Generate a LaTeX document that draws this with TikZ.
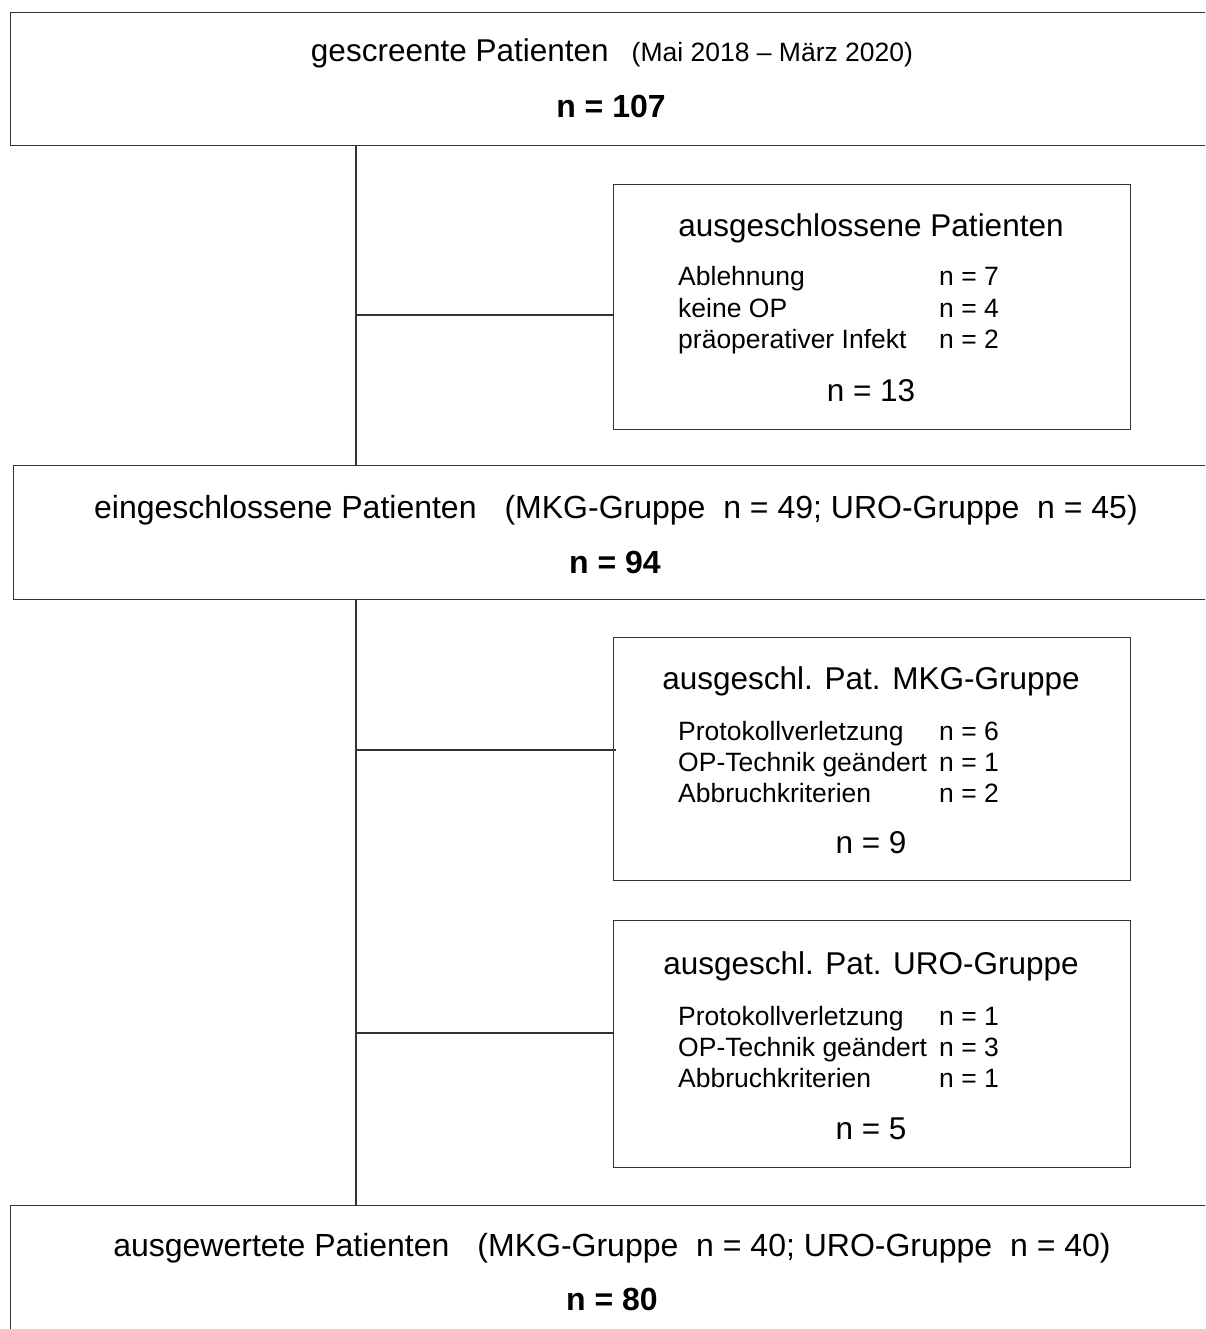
\documentclass[tikz,border=0pt]{standalone}
\usepackage{fontspec}
\setmainfont{Liberation Sans}
\newcommand\hdfont{\fontsize{31.5}{37}\selectfont}
\newcommand\widehd{\fontsize{32}{38}\selectfont}
\newcommand\subfont{\fontsize{26.5}{31}\selectfont}
\newcommand\listfont{\fontsize{26.5}{31}\selectfont}
\newcommand\totfont{\fontsize{31.5}{37}\selectfont}
\newcommand\boldtot{\fontsize{32}{38}\selectfont\bfseries}
\begin{document}
\begin{tikzpicture}[x=1pt,y=-1pt,
  frame/.style={draw=black!80, line width=1.3pt, rectangle, inner sep=0pt, anchor=north west},
  link/.style={draw=black!80, line width=1.3pt},
  hd/.style={inner sep=0pt, anchor=base, font=\hdfont},
  whd/.style={inner sep=0pt, anchor=base, font=\widehd},
  tot/.style={inner sep=0pt, anchor=base, font=\totfont},
  btot/.style={inner sep=0pt, anchor=base, font=\boldtot},
  item/.style={inner sep=0pt, anchor=base west, font=\listfont}]
\useasboundingbox (0,0) rectangle (1205,1329);
\clip (0,0) rectangle (1205,1329);

% main stages (full width, running off the right edge)
\node[frame, minimum width=1225pt, minimum height=133pt] (screen) at (10,12) {};
\node[frame, minimum width=1225pt, minimum height=134pt] (incl) at (13,465) {};
\node[frame, minimum width=1225pt, minimum height=160pt] (eval) at (10,1205) {};

% exclusion boxes
\node[frame, minimum width=517pt, minimum height=245pt] (excl) at (613,184) {};
\node[frame, minimum width=517pt, minimum height=243pt] (mkg) at (613,637) {};
\node[frame, minimum width=517pt, minimum height=247pt] (uro) at (613,920) {};

% texts of the main stages
\node[hd] (screenhd) at (612,62) {gescreente Patienten\hspace{23pt}{\subfont (Mai 2018 – März 2020)}};
\node[btot] (screenn) at (611,118) {n = 107};
\node[whd] (inclhd) at (616,518) {eingeschlossene Patienten\hspace{28pt}(MKG-Gruppe\ \ n = 49; URO-Gruppe\ \ n = 45)};
\node[btot] (incln) at (615,573) {n = 94};
\node[whd] (evalhd) at (612,1256) {ausgewertete Patienten\hspace{28pt}(MKG-Gruppe\ \ n = 40; URO-Gruppe\ \ n = 40)};
\node[btot] (evaln) at (612,1310) {n = 80};

% texts of the exclusion boxes
\node[hd] (exclhd) at (871,237) {ausgeschlossene Patienten};
\node[item] (e1) at (678,286) {Ablehnung};
\node[item] (e1n) at (939,286) {n = 7};
\node[item] (e2) at (678,317) {keine OP};
\node[item] (e2n) at (939,317) {n = 4};
\node[item] (e3) at (678,348) {präoperativer Infekt};
\node[item] (e3n) at (939,348) {n = 2};
\node[tot] (excln) at (871,401) {n = 13};

\node[hd] (mkghd) at (871,689) {ausgeschl. Pat. MKG-Gruppe};
\node[item] (m1) at (678,740) {Protokollverletzung};
\node[item] (m1n) at (939,740) {n = 6};
\node[item] (m2) at (678,771) {OP-Technik geändert};
\node[item] (m2n) at (939,771) {n = 1};
\node[item] (m3) at (678,802) {Abbruchkriterien};
\node[item] (m3n) at (939,802) {n = 2};
\node[tot] (mkgn) at (871,853) {n = 9};

\node[hd] (urohd) at (871,974) {ausgeschl. Pat. URO-Gruppe};
\node[item] (u1) at (678,1025) {Protokollverletzung};
\node[item] (u1n) at (939,1025) {n = 1};
\node[item] (u2) at (678,1056) {OP-Technik geändert};
\node[item] (u2n) at (939,1056) {n = 3};
\node[item] (u3) at (678,1087) {Abbruchkriterien};
\node[item] (u3n) at (939,1087) {n = 1};
\node[tot] (uron) at (871,1139) {n = 5};

% trunk and branches
\coordinate (top1) at (356,145);
\coordinate (top2) at (356,599);
\coordinate (bx) at (356,315);
\coordinate (bm) at (356,750);
\coordinate (bu) at (356,1033);
\draw[link] (top1 |- screen.south) -- (top1 |- incl.north);
\draw[link] (top2 |- incl.south) -- (top2 |- eval.north);
\draw[link] (bx) -- (bx -| excl.west);
\draw[link] (bm) -- ([xshift=3pt]bm -| mkg.west);
\draw[link] (bu) -- (bu -| uro.west);
\end{tikzpicture}
\end{document}
